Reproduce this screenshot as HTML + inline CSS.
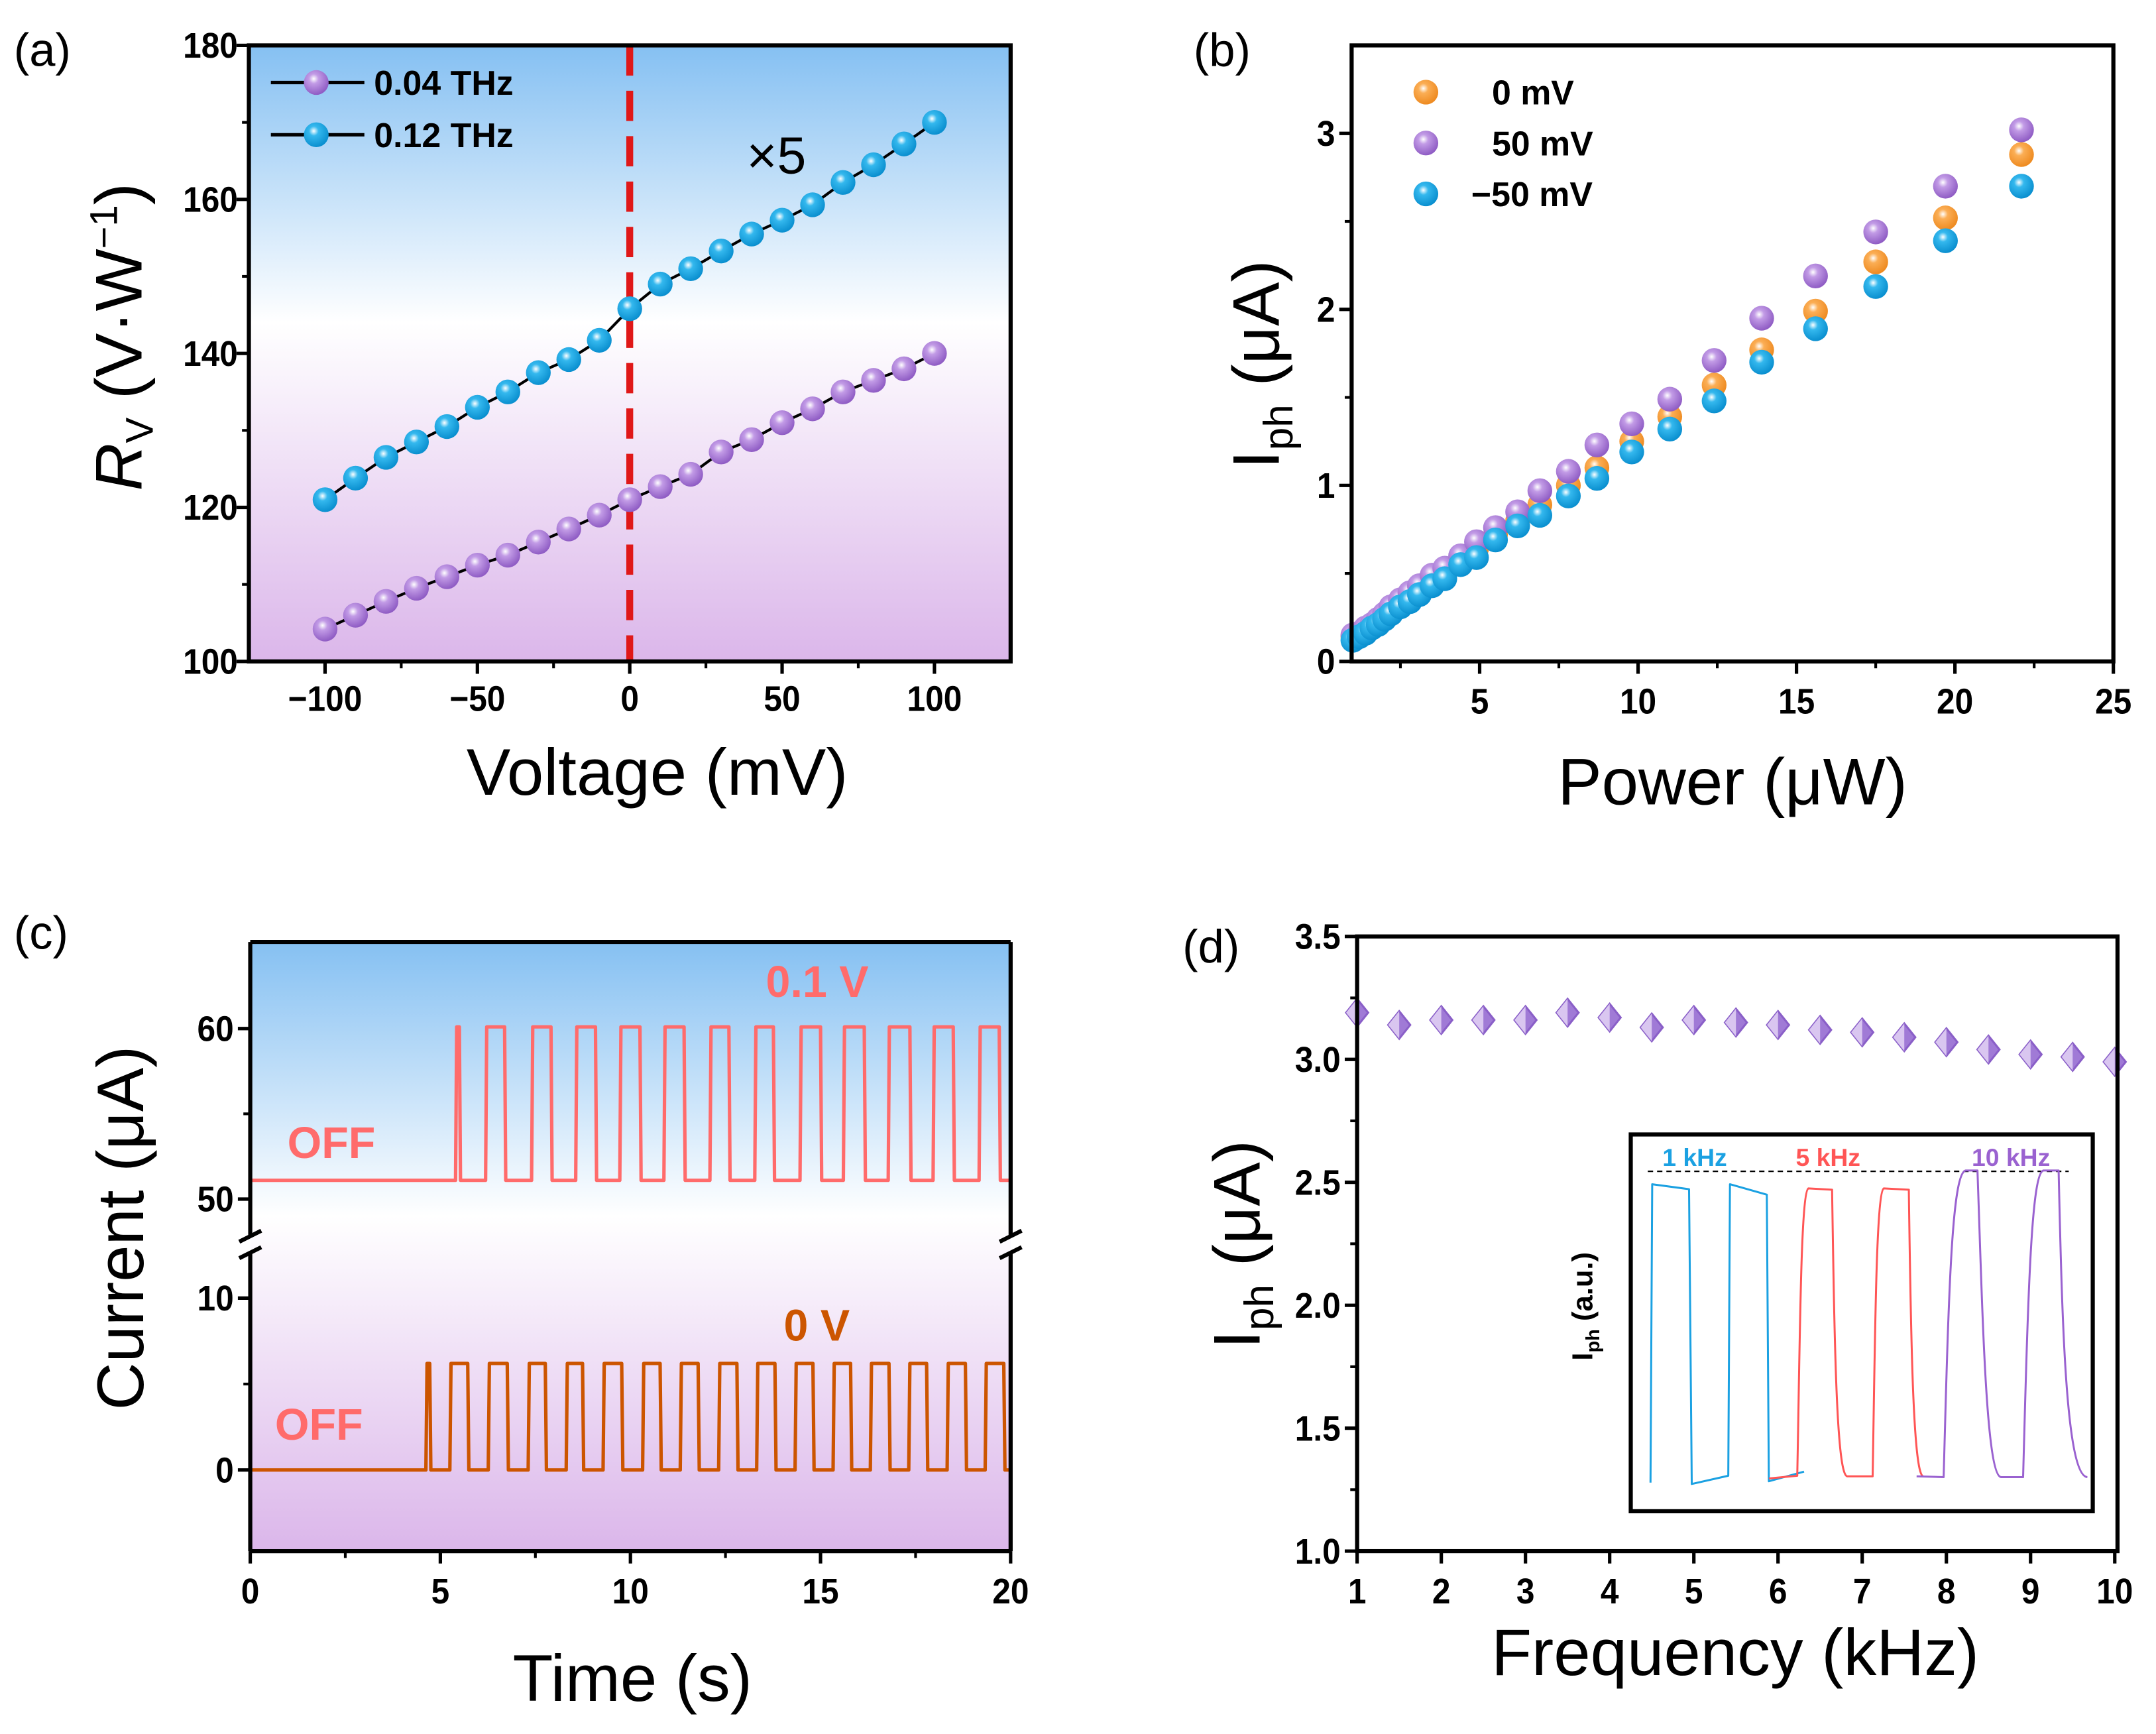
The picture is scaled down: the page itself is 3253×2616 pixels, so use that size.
<!DOCTYPE html>
<html><head><meta charset="utf-8"><style>
html,body{margin:0;padding:0;background:#fff}
svg{display:block}
text{font-family:"Liberation Sans",Arial,sans-serif}
</style></head><body>
<svg id="fig" width="3253" height="2616" viewBox="0 0 1568 1261" preserveAspectRatio="none" xmlns="http://www.w3.org/2000/svg">
<defs>
<linearGradient id="bg" x1="0" y1="0" x2="0" y2="1">
<stop offset="0" stop-color="#85c0f2"/><stop offset="0.45" stop-color="#ffffff"/><stop offset="1" stop-color="#dbb6ea"/>
</linearGradient>
<radialGradient id="gP" cx="0.4" cy="0.35" r="0.65"><stop offset="0" stop-color="#fff"/><stop offset="0.3" stop-color="#c29be6"/><stop offset="1" stop-color="#8f5cc4"/></radialGradient>
<radialGradient id="gB" cx="0.4" cy="0.35" r="0.65"><stop offset="0" stop-color="#fff"/><stop offset="0.3" stop-color="#34b8ee"/><stop offset="1" stop-color="#0a8fcf"/></radialGradient>
<radialGradient id="gO" cx="0.4" cy="0.35" r="0.65"><stop offset="0" stop-color="#fff"/><stop offset="0.3" stop-color="#fbae55"/><stop offset="1" stop-color="#ee8a20"/></radialGradient>
</defs>
<g id="root"></g>
</svg>
<script>
// ---------- Panel (a) data ----------
const aVolt=[-100,-90,-80,-70,-60,-50,-40,-30,-20,-10,0,10,20,30,40,50,60,70,80,90,100];
const a004=[104.2,106,107.8,109.5,111,112.5,113.8,115.5,117.2,119,121,122.7,124.3,127.2,128.8,131,132.8,135,136.5,138,140];
const a012=[121,123.8,126.5,128.5,130.5,133,135,137.5,139.2,141.7,145.8,149,151,153.3,155.5,157.3,159.3,162.2,164.5,167.2,170];
const aXTicks=[-100,-50,0,50,100];
const aYTicks=[100,120,140,160,180];
// ---------- Panel (b) data ----------
const bPower=[1,1.2,1.4,1.6,1.8,2,2.2,2.5,2.8,3.1,3.5,3.9,4.4,4.9,5.5,6.2,6.9,7.8,8.7,9.8,11,12.4,13.9,15.6,17.5,19.7,22.1];
const b0=[0.14,0.15,0.18,0.2,0.23,0.26,0.29,0.33,0.37,0.41,0.46,0.51,0.58,0.64,0.72,0.8,0.89,1.0,1.1,1.25,1.39,1.57,1.77,1.99,2.27,2.52,2.88];
const b50=[0.15,0.16,0.19,0.21,0.24,0.27,0.31,0.35,0.39,0.43,0.49,0.53,0.6,0.68,0.76,0.85,0.97,1.08,1.23,1.35,1.49,1.71,1.95,2.19,2.44,2.7,3.02];
const bm50=[0.12,0.14,0.16,0.19,0.21,0.24,0.27,0.31,0.34,0.38,0.43,0.47,0.55,0.59,0.69,0.77,0.83,0.94,1.04,1.19,1.32,1.48,1.7,1.89,2.13,2.39,2.7];
const bXTicks=[5,10,15,20,25];
const bYTicks=[0,1,2,3];
// ---------- Panel (c) data ----------
const cUpRise=[5.4,6.19,7.4,8.56,9.72,10.88,12.09,13.27,14.46,15.6,16.78,17.96,19.17];
const cUpFall=[5.5,6.69,7.91,9.08,10.25,11.41,12.59,13.76,15.0,16.15,17.35,18.49,19.7];
const cUpBase=51.1, cUpOn=60.1;
const cLoRise=[4.62,5.25,6.26,7.31,8.31,9.28,10.32,11.31,12.32,13.32,14.33,15.33,16.31,17.32,18.33,19.33];
const cLoFall=[4.72,5.72,6.76,7.76,8.74,9.77,10.78,11.78,12.8,13.8,14.8,15.79,16.8,17.79,18.81,19.82];
const cLoBase=0, cLoOn=6.2;
const cXTicks=[0,5,10,15,20];
const cUpTicks=[50,60];
const cLoTicks=[0,10];
// ---------- Panel (d) data ----------
const dFreq=[1,1.5,2,2.5,3,3.5,4,4.5,5,5.5,6,6.5,7,7.5,8,8.5,9,9.5,10];
const dIph=[3.19,3.14,3.16,3.16,3.16,3.19,3.17,3.13,3.16,3.15,3.14,3.12,3.11,3.09,3.07,3.04,3.02,3.01,2.99];
const dXTicks=[1,2,3,4,5,6,7,8,9,10];
const dYTicks=[1.0,1.5,2.0,2.5,3.0,3.5];

const NS="http://www.w3.org/2000/svg";
const root=document.getElementById('root');
const TF=26, AF=48;
function el(tag,attrs,parent,txt){const e=document.createElementNS(NS,tag);for(const k in attrs)e.setAttribute(k,attrs[k]);if(txt!==undefined)e.textContent=txt;(parent||root).appendChild(e);return e;}
function lin(d0,d1,r0,r1){return v=>r0+(v-d0)*(r1-r0)/(d1-d0);}
function tick(g,xx,yy,s,anchor,nm){const t=el('text',{x:xx,y:yy,'text-anchor':anchor,'font-size':TF,'font-weight':'bold',transform:`translate(${xx},0) scale(0.92,1) translate(${-xx},0)`},g,s);return t;}

// ===== Panel (a) =====
{
const L=181,R=735,T=33,B=481;
const x=lin(-125,125,L,R), y=lin(100,180,B,T);
const g=el('g',{});

const bgR=el('rect',{x:L,y:T,width:R-L,height:B-T,fill:'url(#bg)'},g);

const dl=el('line',{x1:x(0),x2:x(0),y1:T,y2:B,stroke:'#e01818','stroke-width':5,'stroke-dasharray':'22,11'},g);

[[a004,'gP','series-0-04thz'],[a012,'gB','series-0-12thz']].forEach(([arr,gr,nm])=>{
 const p=el('polyline',{points:aVolt.map((v,i)=>x(v)+','+y(arr[i])).join(' '),fill:'none',stroke:'#000','stroke-width':2},g);
 
 aVolt.forEach((v,i)=>{const c=el('circle',{cx:x(v),cy:y(arr[i]),r:9,fill:'url(#'+gr+')'},g);
 });
});
const fr=el('rect',{x:L,y:T,width:R-L,height:B-T,fill:'none',stroke:'#000','stroke-width':3},g);

aXTicks.forEach(v=>{el('line',{x1:x(v),x2:x(v),y1:B,y2:B+9,stroke:'#000','stroke-width':2.5},g);
 tick(g,x(v),B+36,v<0?'\u2212'+(-v):v,'middle','x-tick-label-a');});
[-75,-25,25,75].forEach(v=>el('line',{x1:x(v),x2:x(v),y1:B,y2:B+5,stroke:'#000','stroke-width':2},g));
aYTicks.forEach(v=>{el('line',{x1:L-9,x2:L,y1:y(v),y2:y(v),stroke:'#000','stroke-width':2.5},g);
 tick(g,L-8,y(v)+9,v,'end','y-tick-label-a');});
[110,130,150,170].forEach(v=>el('line',{x1:L-5,x2:L,y1:y(v),y2:y(v),stroke:'#000','stroke-width':2},g));
[[60,'gP','0.04 THz'],[98,'gB','0.12 THz']].forEach(([yy,gr,lab])=>{
 const lg=el('g',{},g);
 el('line',{x1:197,x2:265,y1:yy,y2:yy,stroke:'#000','stroke-width':2.5},lg);
 el('circle',{cx:230,cy:yy,r:9,fill:'url(#'+gr+')'},lg);
 el('text',{x:272,y:yy+9,'font-size':25,'font-weight':'bold'},lg,lab);});
const x5=el('text',{x:543,y:126,'font-size':38},g,'\u00d75');
const xt=el('text',{x:478,y:578,'text-anchor':'middle','font-size':AF},g,'Voltage (mV)');
const yt=el('text',{transform:'translate(103,245) rotate(-90)','text-anchor':'middle','font-size':AF},g);

el('tspan',{'font-style':'italic'},yt,'R');el('tspan',{'font-size':28,dy:8},yt,'V');el('tspan',{dy:-8},yt,' (V\u00b7W');el('tspan',{'font-size':28,dy:-18},yt,'\u22121');el('tspan',{dy:18},yt,')');
const pl=el('text',{x:10,y:48,'font-size':34},g,'(a)');
}

// ===== Panel (b) =====
{
const L=983,R=1537,T=33,B=481;
const x=lin(0.96,25,L,R), y=lin(0,3.5,B,T);
const g=el('g',{});
[[b0,'gO','series-0mv'],[b50,'gP','series-50mv'],[bm50,'gB','series-neg50mv']].forEach(([arr,gr,nm])=>{
 bPower.forEach((p,i)=>{const c=el('circle',{cx:x(p),cy:y(arr[i]),r:9,fill:'url(#'+gr+')'},g);
 });});
const fr=el('rect',{x:L,y:T,width:R-L,height:B-T,fill:'none',stroke:'#000','stroke-width':3},g);

bXTicks.forEach(v=>{el('line',{x1:x(v),x2:x(v),y1:B,y2:B+9,stroke:'#000','stroke-width':2.5},g);
 tick(g,x(v),B+38,v,'middle','x-tick-label-b');});
[2.5,7.5,12.5,17.5,22.5].forEach(v=>el('line',{x1:x(v),x2:x(v),y1:B,y2:B+5,stroke:'#000','stroke-width':2},g));
bYTicks.forEach(v=>{el('line',{x1:L-9,x2:L,y1:y(v),y2:y(v),stroke:'#000','stroke-width':2.5},g);
 tick(g,L-12,y(v)+9,v,'end','y-tick-label-b');});
[0.5,1.5,2.5].forEach(v=>el('line',{x1:L-5,x2:L,y1:y(v),y2:y(v),stroke:'#000','stroke-width':2},g));
[[67,'gO','0 mV',1085],[104,'gP','50 mV',1085],[141,'gB','\u221250 mV',1070]].forEach(([yy,gr,lab,tx])=>{
 const lg=el('g',{},g);
 el('circle',{cx:1037,cy:yy,r:9,fill:'url(#'+gr+')'},lg);
 el('text',{x:tx,y:yy+9,'font-size':25,'font-weight':'bold'},lg,lab);});
const xt=el('text',{x:1260,y:585,'text-anchor':'middle','font-size':AF},g,'Power (\u03bcW)');
const yt=el('text',{transform:'translate(930,265) rotate(-90)','text-anchor':'middle','font-size':AF},g);

el('tspan',{},yt,'I');el('tspan',{'font-size':30,dy:10},yt,'ph');el('tspan',{dy:-10},yt,' (\u03bcA)');
const pl=el('text',{x:868,y:48,'font-size':34},g,'(b)');
}

// ===== Panel (c) =====
{
const L=182,R=735,T=685,B=1128;
const x=lin(0,20,L,R), yU=lin(50,60,872,748), yL=lin(0,10,1069,944);
const g=el('g',{});
const bgR=el('rect',{x:L,y:T,width:R-L,height:B-T,fill:'url(#bg)'},g);

function trace(rise,fall,base,on,ys,col,nm){
 let pts=[[0,base]];
 rise.forEach((r,i)=>{pts.push([r,base],[r+0.03,on],[fall[i],on],[fall[i]+0.03,base]);});
 pts.push([20,base]);
 const p=el('polyline',{points:pts.map(q=>x(q[0])+','+ys(q[1])).join(' '),fill:'none',stroke:col,'stroke-width':2.5,'stroke-linejoin':'round'},g);
 }
trace(cUpRise,cUpFall,cUpBase,cUpOn,yU,'#ff6b6b','trace-0-1v');
trace(cLoRise,cLoFall,cLoBase,cLoOn,yL,'#cc5500','trace-0v');
const fs={stroke:'#000','stroke-width':3,fill:'none'};
el('line',Object.assign({x1:L,x2:R,y1:T,y2:T},fs),g);el('line',Object.assign({x1:L,x2:R,y1:B,y2:B},fs),g);
el('line',Object.assign({x1:L,x2:L,y1:T,y2:899},fs),g);el('line',Object.assign({x1:L,x2:L,y1:911,y2:B},fs),g);
el('line',Object.assign({x1:R,x2:R,y1:T,y2:899},fs),g);el('line',Object.assign({x1:R,x2:R,y1:911,y2:B},fs),g);
[L,R].forEach(xx=>{[899,911].forEach(yy=>{const b=el('line',{x1:xx-8,x2:xx+8,y1:yy+4,y2:yy-4,stroke:'#000','stroke-width':3},g);});});
cXTicks.forEach(v=>{el('line',{x1:x(v),x2:x(v),y1:B,y2:B+9,stroke:'#000','stroke-width':2.5},g);
 tick(g,x(v),B+38,v,'middle','x-tick-label-c');});
[2.5,7.5,12.5,17.5].forEach(v=>el('line',{x1:x(v),x2:x(v),y1:B,y2:B+5,stroke:'#000','stroke-width':2},g));
cUpTicks.forEach(v=>{el('line',{x1:L-9,x2:L,y1:yU(v),y2:yU(v),stroke:'#000','stroke-width':2.5},g);
 tick(g,L-12,yU(v)+9,v,'end','y-tick-label-c');});
cLoTicks.forEach(v=>{el('line',{x1:L-9,x2:L,y1:yL(v),y2:yL(v),stroke:'#000','stroke-width':2.5},g);
 tick(g,L-12,yL(v)+9,v,'end','y-tick-label-c');});
el('line',{x1:L-5,x2:L,y1:yU(55),y2:yU(55),stroke:'#000','stroke-width':2},g);el('line',{x1:L-5,x2:L,y1:yL(5),y2:yL(5),stroke:'#000','stroke-width':2},g);
[[209,842,'OFF','#ff6b6b','off-label-upper'],[200,1047,'OFF','#ff6b6b','off-label-lower'],[557,725,'0.1 V','#ff6b6b','label-0-1v'],[570,975,'0 V','#cc5500','label-0v']].forEach(([xx,yy,s,c,nm])=>{
 const t=el('text',{x:xx,y:yy,'font-size':32,'font-weight':'bold',fill:c},g,s);});
const xt=el('text',{x:460,y:1237,'text-anchor':'middle','font-size':AF},g,'Time (s)');
const yt=el('text',{transform:'translate(104,893) rotate(-90)','text-anchor':'middle','font-size':AF},g,'Current (\u03bcA)');

const pl=el('text',{x:10,y:690,'font-size':34},g,'(c)');
}

// ===== Panel (d) =====
{
const L=987,R=1540,T=681,B=1128;
const x=lin(1,10,L,1538), y=lin(1,3.5,B,T);
const g=el('g',{});
dFreq.forEach((f,i)=>{const cx=x(f),cy=y(dIph[i]),s=10;
 const dg=el('g',{},g);
 el('polygon',{points:`${cx},${cy-s} ${cx+s*0.8},${cy} ${cx},${cy+s} ${cx-s*0.8},${cy}`,fill:'#a07ad6',stroke:'#8a5fc8','stroke-width':1.5},dg);
 el('polygon',{points:`${cx},${cy-s} ${cx},${cy+s} ${cx-s*0.8},${cy}`,fill:'#d9c6f0'},dg);});
const fr=el('rect',{x:L,y:T,width:R-L,height:B-T,fill:'none',stroke:'#000','stroke-width':3},g);

dXTicks.forEach(v=>{el('line',{x1:x(v),x2:x(v),y1:B,y2:B+9,stroke:'#000','stroke-width':2.5},g);
 tick(g,x(v),B+38,v,'middle','x-tick-label-d');});
dYTicks.forEach(v=>{el('line',{x1:L-9,x2:L,y1:y(v),y2:y(v),stroke:'#000','stroke-width':2.5},g);
 tick(g,L-12,y(v)+9,v.toFixed(1),'end','y-tick-label-d');});
[1.25,1.75,2.25,2.75,3.25].forEach(v=>el('line',{x1:L-5,x2:L,y1:y(v),y2:y(v),stroke:'#000','stroke-width':2},g));
const ins=el('g',{},g);
el('rect',{x:1186,y:825,width:336,height:274,fill:'#fff',stroke:'#000','stroke-width':3},ins);
const tg=el('g',{transform:'translate(1156.6,795.2) scale(0.2459,0.2)'},ins);
const ls={fill:'none','stroke-width':3,'vector-effect':'non-scaling-stroke','stroke-linejoin':'round'};
const dash=el('line',{x1:170,x2:1415,y1:283,y2:283,stroke:'#000','stroke-dasharray':'8,6','stroke-width':2.2,'vector-effect':'non-scaling-stroke'},tg);

const w1=el('path',Object.assign({d:'M178,1415 L183,330 L292,348 L300,1420 L408,1390 L413,330 L522,368 L528,1410 L632,1375',stroke:'#1ba1e2'},ls),tg);

const w5=el('path',Object.assign({d:'M528,1400 L612,1390 C620,900 622,360 645,345 L715,350 C722,900 728,1390 760,1392 L835,1392 C842,900 845,360 868,345 L942,350 C948,900 955,1390 985,1392',stroke:'#ff5555'},ls),tg);

const w10=el('path',Object.assign({d:'M965,1392 L1045,1395 C1060,700 1070,290 1110,280 L1145,280 C1160,800 1170,1390 1215,1395 L1280,1395 C1295,700 1305,290 1340,280 L1385,280 C1395,800 1405,1390 1470,1395',stroke:'#9a62d0'},ls),tg);

[[1209,'1 kHz','#1ba1e2'],[1306,'5 kHz','#ff5555'],[1434,'10 kHz','#9a62d0']].forEach(([xx,s,c])=>{
 const t=el('text',{x:xx,y:848,'font-size':18,'font-weight':'bold',fill:c},ins,s);});
const iy=el('text',{transform:'translate(1158,950) rotate(-90)','text-anchor':'middle','font-size':21,'font-weight':'bold'},ins);

el('tspan',{},iy,'I');el('tspan',{'font-size':14,dy:5},iy,'ph');el('tspan',{dy:-5},iy,' (a.u.)');
const xt=el('text',{x:1262,y:1218,'text-anchor':'middle','font-size':AF},g,'Frequency (kHz)');
const yt=el('text',{transform:'translate(916,905) rotate(-90)','text-anchor':'middle','font-size':AF},g);

el('tspan',{},yt,'I');el('tspan',{'font-size':30,dy:10},yt,'ph');el('tspan',{dy:-10},yt,' (\u03bcA)');
const pl=el('text',{x:860,y:700,'font-size':34},g,'(d)');
}
</script>
</body></html>
